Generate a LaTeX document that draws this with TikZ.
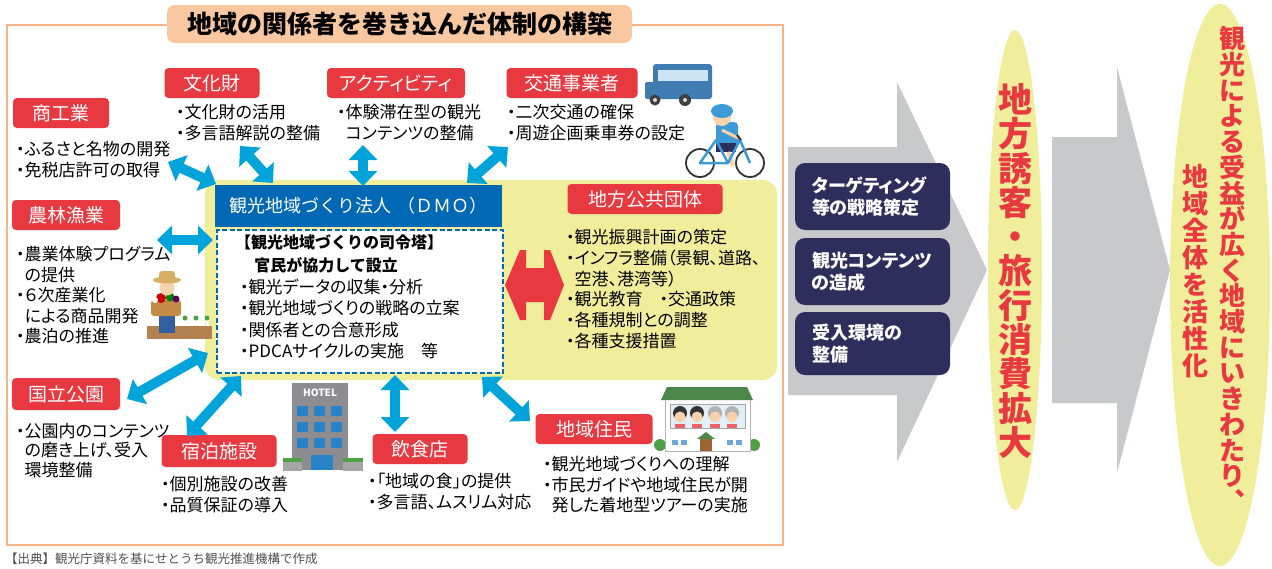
\documentclass[tikz,border=0pt]{standalone}
\usepackage{fontspec}
\setmainfont{Noto Sans CJK JP}[RawFeature={+palt}]
\newfontfamily\jpfixed{Noto Sans CJK JP}
\usetikzlibrary{arrows.meta}

\definecolor{tagred}{RGB}{232,56,64}
\definecolor{linkblue}{RGB}{0,164,218}
\definecolor{dmoblue}{RGB}{0,104,181}
\definecolor{softyellow}{RGB}{241,238,155}
\definecolor{arrowgray}{RGB}{200,201,203}
\definecolor{stepnavy}{RGB}{46,46,92}
\definecolor{frameorange}{RGB}{245,180,135}
\definecolor{titlepeach}{RGB}{250,200,160}
\definecolor{notegray}{RGB}{80,80,80}
\definecolor{hotelgray}{RGB}{140,140,145}
\definecolor{winblue}{RGB}{40,130,200}
\definecolor{bushgreen}{RGB}{80,160,70}
\definecolor{busblue}{RGB}{62,124,178}
\definecolor{buswin}{RGB}{205,228,243}
\definecolor{skin}{RGB}{248,210,170}
\definecolor{shirtblue}{RGB}{60,155,215}
\definecolor{roofgreen}{RGB}{75,135,75}
\definecolor{soilbrown}{RGB}{180,130,80}
\definecolor{straw}{RGB}{215,175,100}
\definecolor{basket}{RGB}{195,140,70}
\definecolor{jeans}{RGB}{50,95,160}

\begin{document}
\begin{tikzpicture}[x=1pt,y=-1pt,
  tag/.style={fill=tagred, text=white, rounded corners=4pt, minimum height=30pt, inner sep=0pt, font=\fontsize{19}{19}\selectfont},
  note/.style={anchor=north west, inner sep=0pt, align=left, font=\fontsize{17}{21}\selectfont},
  link/.style={draw=linkblue, line width=10pt, {Triangle[length=15pt,width=28pt]}-{Triangle[length=15pt,width=28pt]}},
  stepbox/.style={fill=stepnavy, text=white, rounded corners=10pt, text width=121pt, inner xsep=17pt, inner ysep=0pt, align=left, font=\bfseries\fontsize{18}{22}\selectfont},
  vtext/.style={align=center, inner sep=0pt, text=tagred}]

  \fill[white] (0,0) rectangle (1272,568);

  % big grey arrows
  \fill[arrowgray] (788,147) -- (897,147) -- (897,82) -- (987,270) -- (897,462) -- (897,395) -- (788,395) -- cycle;
  \fill[arrowgray] (1052,137) -- (1117,137) -- (1117,67) -- (1170,270) -- (1117,473) -- (1117,403) -- (1052,403) -- cycle;

  \draw[frameorange, line width=1.5pt] (7,25) rectangle (783,545);
  \node[fill=titlepeach, rounded corners=8pt, minimum width=465pt, minimum height=38pt, inner sep=0pt, font=\jpfixed\bfseries\fontsize{25}{25}\selectfont] (title) at (399.5,24) {地域の関係者を巻き込んだ体制の構築};

  % DMO
  \fill[softyellow, rounded corners=14pt] (205,180) rectangle (777,380);
  \node[fill=dmoblue, text=white, minimum width=287pt, minimum height=42pt, inner sep=0pt, font=\jpfixed\fontsize{18}{18}\selectfont] (dmo) at (358.5,206) {観光地域づくり法人\hspace{0.3em}（ＤＭＯ）};
  \node[draw=dmoblue, fill=white, dash pattern=on 5pt off 2.5pt, line width=1.5pt, minimum width=286pt, minimum height=143pt, inner sep=0pt] (core) at (360,301.5) {};
  \node[note, font=\jpfixed\bfseries\fontsize{16}{23}\selectfont] (core-lead) at (235,234) {【観光地域づくりの司令塔】\\\hspace*{1.2em}官民が協力して設立};
  \node[note, font=\fontsize{17}{21.3}\selectfont] (core-list) at (240,279) {・観光データの収集・分析\\・観光地域づくりの戦略の立案\\・関係者との合意形成\\・PDCAサイクルの実施\hspace{1em}等};

  \node[tag, minimum width=96pt] (shoko) at (61,113) {商工業};
  \node[tag, minimum width=95pt] (bunka) at (212,83) {文化財};
  \node[tag, minimum width=138pt] (act) at (396,83) {アクティビティ};
  \node[tag, minimum width=131pt] (kotsu) at (572,83) {交通事業者};
  \node[tag, minimum width=108pt] (norin) at (66,215) {農林漁業};
  \node[tag, minimum width=155pt] (kokyo) at (645,199) {地方公共団体};
  \node[tag, minimum width=108pt, minimum height=32pt] (koen) at (66,394) {国立公園};
  \node[tag, minimum width=115pt, minimum height=32pt] (shuku) at (219,451) {宿泊施設};
  \node[tag, minimum width=95pt] (inshoku) at (420,449) {飲食店};
  \node[tag, minimum width=117pt] (jumin) at (594,429) {地域住民};

  \node[note] (shoko-t) at (16,141) {・ふるさと名物の開発\\・免税店許可の取得};
  \node[note] (bunka-t) at (176,104) {・文化財の活用\\・多言語解説の整備};
  \node[note] (act-t) at (337,104) {・体験滞在型の観光\\\hspace*{0.5em}コンテンツの整備};
  \node[note] (kotsu-t) at (507,104) {・二次交通の確保\\・周遊企画乗車券の設定};
  \node[note, font=\fontsize{17}{20.5}\selectfont] (norin-t) at (16,246) {・農業体験プログラム\\\hspace*{0.5em}の提供\\・６次産業化\\\hspace*{0.5em}による商品開発\\・農泊の推進};
  \node[note, font=\fontsize{17}{20.8}\selectfont] (kokyo-t) at (566,229) {・観光振興計画の策定\\・インフラ整備（景観、道路、\\\hspace*{0.5em}空港、港湾等）\\・観光教育\hspace{1em}・交通政策\\・各種規制との調整\\・各種支援措置};
  \node[note, font=\fontsize{17}{19.5}\selectfont] (koen-t) at (16,423) {・公園内のコンテンツ\\\hspace*{0.5em}の磨き上げ、受入\\\hspace*{0.5em}環境整備};
  \node[note] (shuku-t) at (161,476) {・個別施設の改善\\・品質保証の導入};
  \node[note] (inshoku-t) at (368,473) {・「地域の食」の提供\\・多言語、ムスリム対応};
  \node[note, font=\fontsize{17}{20.5}\selectfont] (jumin-t) at (543,456) {・観光地域づくりへの理解\\・市民ガイドや地域住民が開\\\hspace*{0.5em}発した着地型ツアーの実施};

  % links to the DMO
  \coordinate (shoko-p) at (168,162);   \coordinate (shoko-q) at (216,184);
  \coordinate (bunka-p) at (240,146);   \coordinate (bunka-q) at (273,183);
  \coordinate (act-p) at (363,145);     \coordinate (act-q) at (363,186);
  \coordinate (kotsu-p) at (508,147);   \coordinate (kotsu-q) at (467,183);
  \coordinate (norin-p) at (157,240);   \coordinate (norin-q) at (213,240);
  \coordinate (koen-p) at (127,399);    \coordinate (koen-q) at (208,353);
  \coordinate (shuku-p) at (187,436);   \coordinate (shuku-q) at (241,376);
  \coordinate (inshoku-p) at (395,375); \coordinate (inshoku-q) at (395,432);
  \coordinate (jumin-p) at (482,377);   \coordinate (jumin-q) at (530,421);
  \draw[link] (shoko-p) -- (shoko-q);
  \draw[link] (bunka-p) -- (bunka-q);
  \draw[link] (act-p) -- (act-q);
  \draw[link] (kotsu-p) -- (kotsu-q);
  \draw[link] (norin-p) -- (norin-q);
  \draw[link] (koen-p) -- (koen-q);
  \draw[link] (shuku-p) -- (shuku-q);
  \draw[link] (inshoku-p) -- (inshoku-q);
  \draw[link] (jumin-p) -- (jumin-q);

  \fill[tagred] (505,285) -- (520,250) -- (526,250) -- (526,268) -- (544,268) -- (544,250) -- (550,250) -- (564,285)
    -- (550,320) -- (544,320) -- (544,302) -- (526,302) -- (526,320) -- (520,320) -- cycle;

  % hotel
  \fill[hotelgray] (292,383) rectangle (348,470);
  \node[text=white, inner sep=0pt, font=\jpfixed\bfseries\fontsize{10}{10}\selectfont] (hotel-sign) at (320,393) {HOTEL};
  \foreach \wx in {297,314,331}
    \foreach \wy in {406,422,438}
      \fill[winblue] (\wx,\wy) rectangle +(11,10);
  \fill[winblue] (311,455) rectangle (333,470);
  \fill[gray!70] (283,460) rectangle (302,471);
  \fill[gray!70] (343,460) rectangle (363,471);
  \fill[bushgreen] (283,458) rectangle (302,462);
  \fill[bushgreen] (343,458) rectangle (363,462);

  % bus
  \fill[white] (666,60) rectangle (690,64);
  \fill[busblue, rounded corners=3pt] (653,64) rectangle (712,99);
  \fill[busblue, rounded corners=2pt] (645,82) rectangle (660,99);
  \fill[buswin] (658,70) rectangle (708,81);
  \fill[black!75] (655,100) circle (5.5pt);
  \fill[black!75] (685,100) circle (6pt);
  \fill[gray!30] (655,100) circle (2pt);
  \fill[gray!30] (685,100) circle (2pt);

  % cyclist
  \fill[shirtblue, rounded corners=4pt] (716,122) rectangle (738,148);
  \fill[stepnavy] (716,143) rectangle (736,152);
  \draw[skin, line width=4pt] (728,152) -- (733,166);
  \draw[skin, line width=3pt] (722,130) -- (738,138);
  \fill[skin] (722,117) circle (9pt);
  \fill[shirtblue] (722,111) ellipse [x radius=11pt, y radius=7pt];
  \draw[black!80, line width=1.8pt] (700,163) circle (14pt);
  \draw[black!80, line width=1.8pt] (750,163) circle (14pt);
  \draw[shirtblue, line width=2.5pt, line join=round] (700,163) -- (716,140) -- (728,163) -- cycle;
  \draw[shirtblue, line width=2.5pt, line join=round] (716,140) -- (740,140) -- (750,163);
  \draw[shirtblue, line width=2.5pt] (728,163) -- (740,140);
  \draw[black!80, line width=2pt] (737,135) -- (741,140);

  % farmer
  \fill[soilbrown] (147,326) rectangle (212,339);
  \foreach \sx in {185,196,207} {
    \fill[white] (\sx-1.5,319) rectangle (\sx+1.5,326);
    \fill[bushgreen] (\sx,318) circle (2.5pt);
  }
  \fill[jeans] (159,312) rectangle (175,333);
  \fill[basket, rounded corners=3pt] (151,300) rectangle (181,316);
  \fill[red!80!black] (161,298) circle (5pt);
  \fill[green!50!black] (170,297) circle (4.5pt);
  \fill[violet!70!black] (176,299) circle (3.5pt);
  \fill[white] (155,300) circle (3pt);
  \fill[skin] (167,288) circle (7.5pt);
  \fill[straw, rounded corners=3pt] (159,271) rectangle (175,280);
  \fill[straw] (167,280) ellipse [x radius=14pt, y radius=3.5pt];

  % houses with residents
  \fill[bushgreen] (660,445) circle (6pt);
  \fill[bushgreen] (754,445) circle (6pt);
  \filldraw[fill=white, draw=gray!60, line width=1pt] (665,399) rectangle (750,451);
  \fill[roofgreen] (667,387) -- (747,387) -- (753,400) -- (661,400) -- cycle;
  \filldraw[fill=buswin!60, draw=gray!70, line width=1pt] (670,404) rectangle (745,428);
  \foreach \fx/\hc in {680/black!80, 697/black!80, 715/gray!60, 732/gray!60} {
    \fill[\hc] (\fx,413) circle (7pt);
    \fill[skin] (\fx,417) circle (5.5pt);
    \fill[tagred!80] (\fx-5,424) rectangle (\fx+5,428);
  }
  \fill[brown!80!black] (700,438) rectangle (712,451);
  \fill[roofgreen] (697,439) -- (706,432) -- (715,439) -- cycle;
  \foreach \dx in {672,681,727,736}
    \fill[winblue!70] (\dx,440) rectangle +(6,5);

  \node[stepbox, minimum height=67pt] (plan) at (872.5,196.5) {ターゲティング\\等の戦略策定};
  \node[stepbox, minimum height=67pt] (content) at (872.5,271.5) {観光コンテンツ\\の造成};
  \node[stepbox, minimum height=63pt] (welcome) at (872.5,343.5) {受入環境の\\整備};

  \fill[softyellow] (1015,270) ellipse [x radius=27pt, y radius=240pt];
  \fill[softyellow] (1220,285) ellipse [x radius=50pt, y radius=281pt];
  \node[vtext, font=\jpfixed\bfseries\fontsize{34}{34.3}\selectfont] (goal) at (1015,271) {地\\方\\誘\\客\\・\\旅\\行\\消\\費\\拡\\大};
  \node[vtext, font=\jpfixed\bfseries\fontsize{26}{25.7}\selectfont] (benefit) at (1232,269) {観\\光\\に\\よ\\る\\受\\益\\が\\広\\く\\地\\域\\に\\い\\き\\わ\\た\\り\\︑};
  \node[vtext, font=\jpfixed\bfseries\fontsize{26}{27}\selectfont] (revive) at (1195,271) {地\\域\\全\\体\\を\\活\\性\\化};

  \node[anchor=west, inner sep=0pt, text=notegray, font=\jpfixed\fontsize{12.5}{12.5}\selectfont] (source) at (5,559) {【出典】観光庁資料を基にせとうち観光推進機構で作成};
\end{tikzpicture}
\end{document}
